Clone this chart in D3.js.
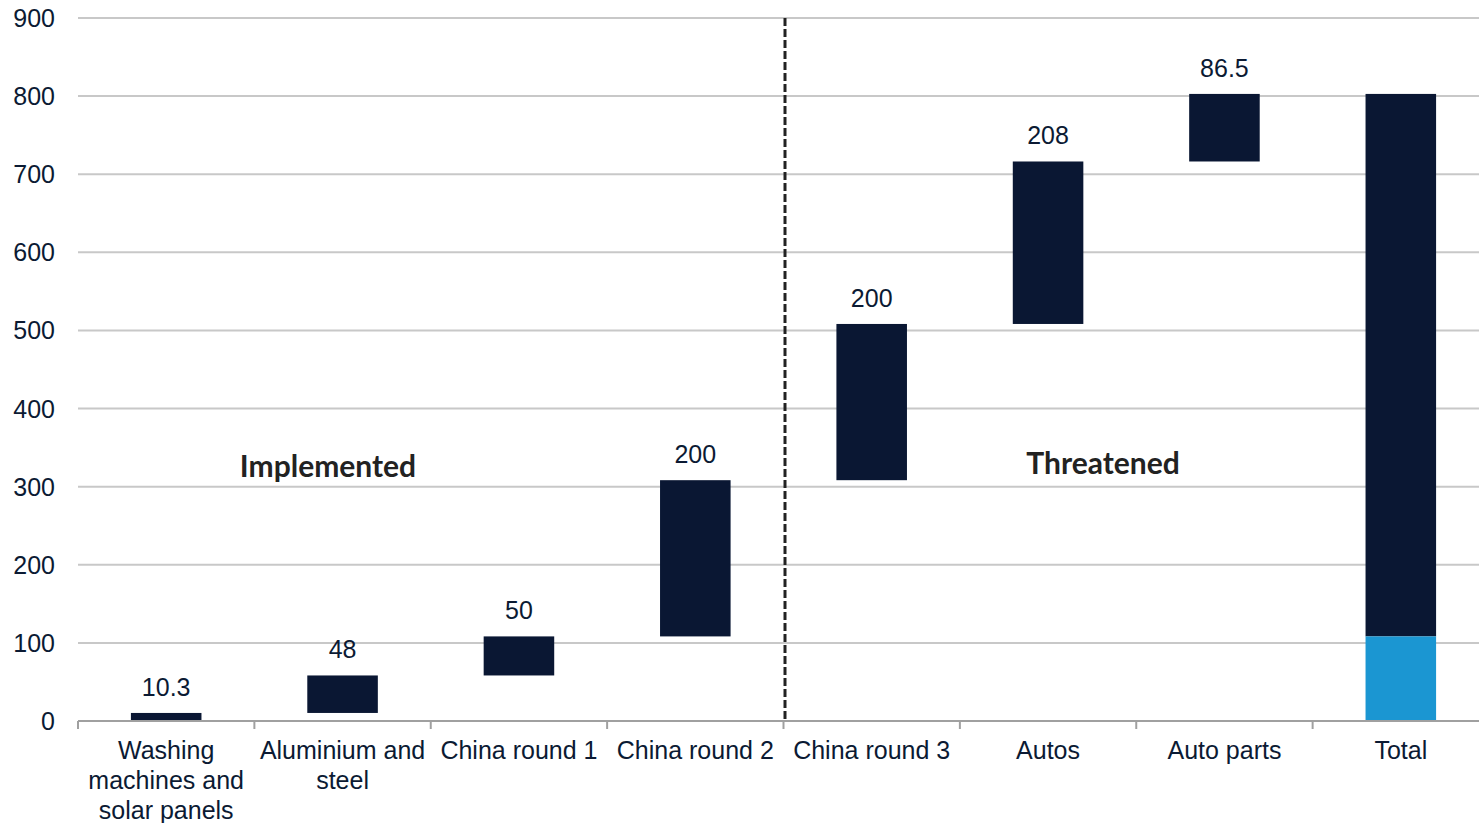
<!DOCTYPE html>
<html>
<head>
<meta charset="utf-8">
<script src="https://cdn.jsdelivr.net/npm/d3@7"></script>
<style>
  body { margin: 0; background: #fff; overflow: hidden; }
  svg { display: block; }
  text { font-family: "Liberation Sans", Arial, sans-serif; fill: #0b1a33; }
</style>
</head>
<body>
<svg id="chart" width="1479" height="823"></svg>
<script>
// tariff waves, $bn of imports covered
const categories = ["Washing machines and solar panels", "Aluminium and steel", "China round 1", "China round 2",
                    "China round 3", "Autos", "Auto parts", "Total"];
const labelLines = [["Washing", "machines and", "solar panels"], ["Aluminium and", "steel"], ["China round 1"],
                    ["China round 2"], ["China round 3"], ["Autos"], ["Auto parts"], ["Total"]];
const steps = [10.3, 48, 50, 200, 200, 208, 86.5];
const stepLabels = ["10.3", "48", "50", "200", "200", "208", "86.5"];
const implementedCount = 3; // first three steps make up the light-blue slice of the total
const yTicks = [0, 100, 200, 300, 400, 500, 600, 700, 800, 900];

const margin = {top: 18, right: -10, bottom: 102, left: 78};
const width = 1479, height = 823;
const svg = d3.select("#chart");

// plot runs a little past the right edge, like the original
const x = d3.scaleBand().domain(categories).range([margin.left, width - margin.right]).paddingInner(0.6).paddingOuter(0.3);
const xOuter = d3.scaleBand().domain(categories).range([margin.left, width - margin.right]);
const y = d3.scaleLinear().domain([0, 900]).range([height - margin.bottom, margin.top]);

// gridlines
svg.append("g").selectAll("line").data(yTicks.slice(1)).join("line")
  .attr("x1", margin.left).attr("x2", width)
  .attr("y1", d => y(d)).attr("y2", d => y(d))
  .attr("stroke", "#c8c8c8").attr("stroke-width", 2);

// y labels
svg.append("g").selectAll("text").data(yTicks).join("text")
  .attr("x", 55).attr("y", d => y(d) + 9)
  .attr("text-anchor", "end").style("font-size", "25px")
  .text(d => d);

// waterfall bars
let run = 0;
const bars = steps.map((v, i) => { const b = {cat: categories[i], y0: run, y1: run + v, label: stepLabels[i]}; run += v; return b; });
const total = run;
const implemented = d3.sum(steps.slice(0, implementedCount));

svg.append("g").selectAll("rect").data(bars).join("rect")
  .attr("x", d => x(d.cat)).attr("width", x.bandwidth())
  .attr("y", d => y(d.y1)).attr("height", d => y(d.y0) - y(d.y1))
  .attr("fill", "#0a1733");

svg.append("g").selectAll("text").data(bars).join("text")
  .attr("x", d => x(d.cat) + x.bandwidth() / 2).attr("y", d => y(d.y1) - 17)
  .attr("text-anchor", "middle").style("font-size", "25px")
  .text(d => d.label);

// total stacked bar
const totalCat = categories[categories.length - 1];
svg.append("rect").attr("x", x(totalCat)).attr("width", x.bandwidth())
  .attr("y", y(total)).attr("height", y(implemented) - y(total)).attr("fill", "#0a1733");
svg.append("rect").attr("x", x(totalCat)).attr("width", x.bandwidth())
  .attr("y", y(implemented)).attr("height", y(0) - y(implemented)).attr("fill", "#1b96d2");

// x axis
const axisY = y(0);
svg.append("line").attr("x1", margin.left).attr("x2", width).attr("y1", axisY).attr("y2", axisY)
  .attr("stroke", "#a0a0a0").attr("stroke-width", 2);
svg.append("g").selectAll("line").data(categories).join("line")
  .attr("x1", d => xOuter(d)).attr("x2", d => xOuter(d))
  .attr("y1", axisY).attr("y2", axisY + 8)
  .attr("stroke", "#a0a0a0").attr("stroke-width", 2);

svg.append("g").selectAll("text").data(categories).join("text")
  .attr("x", d => xOuter(d) + xOuter.bandwidth() / 2)
  .attr("y", 759).attr("text-anchor", "middle").style("font-size", "25px")
  .each(function(d, i) {
    d3.select(this).selectAll("tspan").data(labelLines[i]).join("tspan")
      .attr("x", xOuter(d) + xOuter.bandwidth() / 2)
      .attr("dy", (t, j) => j === 0 ? 0 : 30)
      .text(t => t);
  });

// divider between implemented and threatened
const divX = xOuter(categories[4]) + 1.5;
svg.append("line").attr("x1", divX).attr("x2", divX).attr("y1", y(900)).attr("y2", axisY)
  .attr("stroke", "#222").attr("stroke-width", 3).attr("stroke-dasharray", "8,3");

// group labels
svg.append("text").attr("x", 328).attr("y", 477).attr("text-anchor", "middle")
  .style("font-family", "Lato, sans-serif").style("font-weight", "bold").style("font-size", "30px")
  .style("fill", "#222").text("Implemented");
svg.append("text").attr("x", 1103).attr("y", 474).attr("text-anchor", "middle")
  .style("font-family", "Lato, sans-serif").style("font-weight", "bold").style("font-size", "30px")
  .style("fill", "#222").text("Threatened");
</script>
</body>
</html>
